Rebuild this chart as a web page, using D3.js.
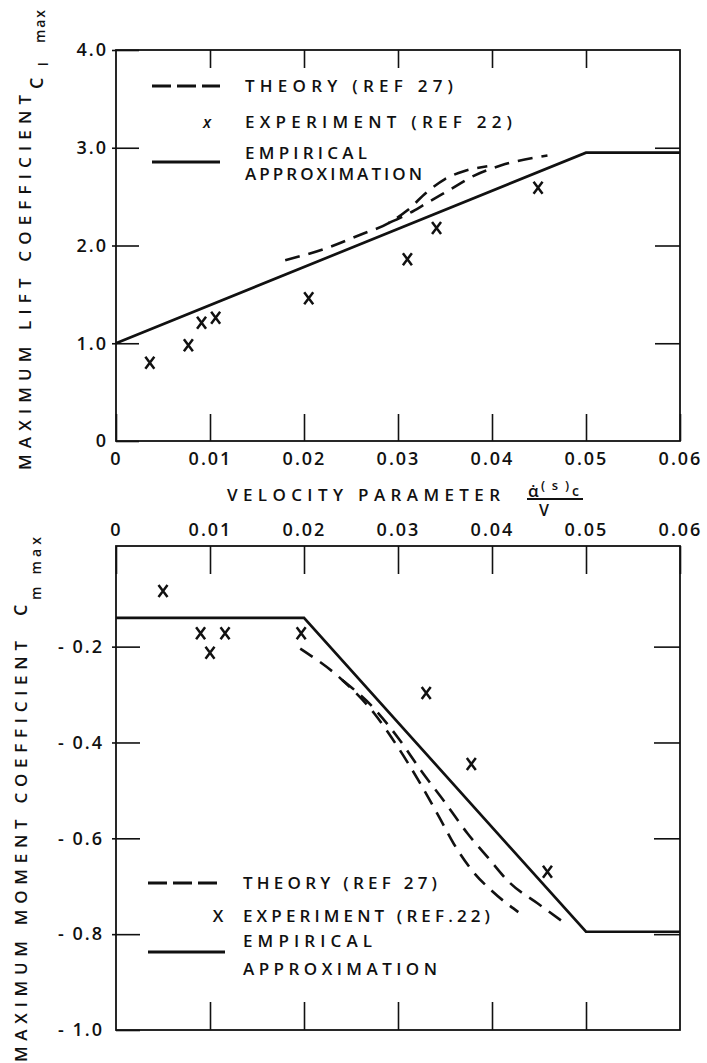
<!DOCTYPE html>
<html>
<head>
<meta charset="utf-8">
<script src="https://cdn.jsdelivr.net/npm/d3@7"></script>
<style>
  body { margin: 0; background: #fff; }
  text { font-family: "Open Sans", sans-serif; font-weight: 600; fill: #111; }
</style>
</head>
<body>
<svg id="chart" width="707" height="1063"></svg>
<script>
// ---- data ----
const xTickValues = [0, 0.01, 0.02, 0.03, 0.04, 0.05, 0.06];
const xInnerTicks = [0.01, 0.02, 0.03, 0.04, 0.05];
const liftTicks = [0, 1, 2, 3, 4];
const momentTicks = [-1.0, -0.8, -0.6, -0.4, -0.2];

// lift coefficient
const liftEmpirical = [[0, 1.0], [0.05, 2.95], [0.06, 2.95]];
const liftTheoryA = [[0.018, 1.85], [0.022, 1.96], [0.026, 2.11], [0.029, 2.23], [0.031, 2.36],
  [0.033, 2.54], [0.035, 2.68], [0.037, 2.76], [0.0395, 2.81]];
const liftTheoryB = [[0.018, 1.85], [0.022, 1.96], [0.026, 2.11], [0.029, 2.23], [0.031, 2.32],
  [0.033, 2.43], [0.0355, 2.57], [0.038, 2.71], [0.041, 2.82], [0.0459, 2.92]];
const liftExperiment = [[0.0036, 0.80], [0.0077, 0.98], [0.0091, 1.21], [0.0106, 1.26],
  [0.0205, 1.46], [0.031, 1.86], [0.0341, 2.18], [0.0449, 2.59]];

// moment coefficient
const momentEmpirical = [[0, -0.14], [0.02, -0.14], [0.05, -0.795], [0.06, -0.795]];
const momentTheoryA = [[0.0196, -0.204], [0.0241, -0.27], [0.0275, -0.34], [0.030, -0.41],
  [0.0325, -0.49], [0.0345, -0.56], [0.0362, -0.62], [0.038, -0.67], [0.040, -0.71], [0.0428, -0.754]];
const momentTheoryB = [[0.0196, -0.204], [0.0241, -0.27], [0.0275, -0.33], [0.030, -0.39],
  [0.0325, -0.46], [0.035, -0.525], [0.0374, -0.59], [0.0396, -0.641], [0.0419, -0.693],
  [0.0448, -0.735], [0.0476, -0.775]];
const momentExperiment = [[0.005, -0.084], [0.009, -0.172], [0.0116, -0.172], [0.010, -0.213],
  [0.0197, -0.172], [0.033, -0.297], [0.0378, -0.445], [0.0459, -0.67]];

// ---- drawing ----
const svg = d3.select("#chart");
const left = 116, right = 680;

const x = d3.scaleLinear().domain([0, 0.06]).range([left, right]);
const yL = d3.scaleLinear().domain([0, 4]).range([441, 50]);
const yM = d3.scaleLinear().domain([-1, 0.01]).range([1030, 546]);

const fmtX = d => d === 0 ? "0" : d.toFixed(2);

function styleAxis(g, labelSize) {
  g.select(".domain").remove();
  g.selectAll(".tick line").attr("stroke", "#111").attr("stroke-width", 1.6);
  g.selectAll(".tick text")
    .attr("fill", "#111")
    .style("font-size", labelSize + "px")
    .style("letter-spacing", "2px")
    .style("font-family", "'Open Sans', sans-serif")
    .style("font-weight", 600);
}

const line = d3.line().x(d => x(d[0]));

// the second theory curve shares its first points with the first one;
// only draw it from the point where it branches off
function branchOf(a, b) {
  let i = 0;
  while (i < a.length && i < b.length && a[i][0] === b[i][0] && a[i][1] === b[i][1]) i++;
  return b.slice(Math.max(0, i - 1));
}

function drawPanel(yScale, data) {
  const g = svg.append("g");
  const y0 = yScale.range()[0], y1 = yScale.range()[1];
  g.append("rect")
    .attr("x", left).attr("y", y1)
    .attr("width", right - left).attr("height", y0 - y1)
    .attr("fill", "none").attr("stroke", "#111").attr("stroke-width", 1.8);

  const lg = line.y(d => yScale(d[1]));
  g.append("path").attr("d", lg.curve(d3.curveLinear)(data.empirical))
    .attr("fill", "none").attr("stroke", "#111").attr("stroke-width", 2.7);
  [data.theoryA, branchOf(data.theoryA, data.theoryB)].forEach(t => {
    g.append("path").attr("d", lg.curve(d3.curveMonotoneX)(t))
      .attr("fill", "none").attr("stroke", "#111").attr("stroke-width", 2.6)
      .attr("stroke-dasharray", "15,9");
  });
  g.selectAll(".xm").data(data.experiment).join("path")
    .attr("transform", d => `translate(${x(d[0])},${yScale(d[1])})`)
    .attr("d", "M-4.5,-6L4.5,6M-4.5,6L4.5,-6")
    .attr("stroke", "#111").attr("stroke-width", 2.5).attr("fill", "none");
  return g;
}

// top panel (lift)
drawPanel(yL, { empirical: liftEmpirical, theoryA: liftTheoryA, theoryB: liftTheoryB, experiment: liftExperiment });

svg.append("g").attr("transform", "translate(0,441)")
  .call(d3.axisBottom(x).tickValues(xTickValues).tickSizeInner(-27).tickSizeOuter(0).tickPadding(11).tickFormat(fmtX))
  .call(g => styleAxis(g, 18));
svg.append("g").attr("transform", "translate(0,50)")
  .call(d3.axisTop(x).tickValues(xInnerTicks).tickSizeInner(-18).tickSizeOuter(0).tickFormat(""))
  .call(g => styleAxis(g, 18));
svg.append("g").attr("transform", `translate(${left},0)`)
  .call(d3.axisLeft(yL).tickValues(liftTicks).tickSizeInner(-23).tickSizeOuter(0).tickPadding(8)
    .tickFormat(d => d === 0 ? "0" : d.toFixed(1)))
  .call(g => styleAxis(g, 18));
svg.append("g").attr("transform", `translate(${left},0)`)
  .call(d3.axisLeft(yL).tickValues([1, 2, 3, 4]).tickSizeInner(4).tickSizeOuter(0).tickFormat(""))
  .call(g => styleAxis(g, 18));
svg.append("g").attr("transform", `translate(${right},0)`)
  .call(d3.axisRight(yL).tickValues([1, 2, 3]).tickSizeInner(-25).tickSizeOuter(0).tickFormat(""))
  .call(g => styleAxis(g, 18));

// bottom panel (moment)
drawPanel(yM, { empirical: momentEmpirical, theoryA: momentTheoryA, theoryB: momentTheoryB, experiment: momentExperiment });

svg.append("g").attr("transform", `translate(0,${yM(0.01)})`)
  .call(d3.axisTop(x).tickValues(xTickValues).tickSizeInner(-28).tickSizeOuter(0).tickPadding(10).tickFormat(fmtX))
  .call(g => styleAxis(g, 18));
svg.append("g").attr("transform", "translate(0,1030)")
  .call(d3.axisBottom(x).tickValues(xInnerTicks).tickSizeInner(-28).tickSizeOuter(0).tickFormat(""))
  .call(g => styleAxis(g, 18));
svg.append("g").attr("transform", `translate(${left},0)`)
  .call(d3.axisLeft(yM).tickValues(momentTicks).tickSizeInner(-24).tickSizeOuter(0).tickPadding(12)
    .tickFormat(d => "- " + Math.abs(d).toFixed(1)))
  .call(g => styleAxis(g, 18));
svg.append("g").attr("transform", `translate(${left},0)`)
  .call(d3.axisLeft(yM).tickValues(momentTicks.slice(1)).tickSizeInner(4).tickSizeOuter(0).tickFormat(""))
  .call(g => styleAxis(g, 18));
svg.append("g").attr("transform", `translate(${right},0)`)
  .call(d3.axisRight(yM).tickValues(momentTicks.slice(1)).tickSizeInner(-26).tickSizeOuter(0).tickFormat(""))
  .call(g => styleAxis(g, 18));

// ---- legends ----
function legend(items) {
  items.forEach(it => {
    if (it.kind === "dash" || it.kind === "solid") {
      svg.append("line").attr("x1", it.x1).attr("x2", it.x2).attr("y1", it.y).attr("y2", it.y)
        .attr("stroke", "#111").attr("stroke-width", 3)
        .attr("stroke-dasharray", it.kind === "dash" ? "19,6" : null);
    } else {
      const t = svg.append("text").attr("x", it.x).attr("y", it.y).text(it.text)
        .style("font-size", (it.size || 17) + "px");
      if (it.len) t.attr("textLength", it.len).attr("lengthAdjust", "spacing");
      if (it.anchor) t.attr("text-anchor", it.anchor);
      if (it.italic) t.style("font-style", "italic");
    }
  });
}

legend([
  { kind: "dash", x1: 152, x2: 220, y: 86 },
  { text: "THEORY (REF 27)", x: 245, y: 92, len: 208 },
  { text: "x", x: 207, y: 128, anchor: "middle", size: 16, italic: true },
  { text: "EXPERIMENT (REF 22)", x: 245, y: 128, len: 267 },
  { kind: "solid", x1: 152, x2: 220, y: 162 },
  { text: "EMPIRICAL", x: 245, y: 159, len: 122 },
  { text: "APPROXIMATION", x: 245, y: 180, len: 177 }
]);

legend([
  { kind: "dash", x1: 148, x2: 222, y: 883 },
  { text: "THEORY (REF 27)", x: 243, y: 889, len: 194 },
  { text: "X", x: 218, y: 922, anchor: "middle", size: 17 },
  { text: "EXPERIMENT (REF.22)", x: 243, y: 922, len: 247 },
  { kind: "solid", x1: 148, x2: 225, y: 952 },
  { text: "EMPIRICAL", x: 243, y: 947, len: 129 },
  { text: "APPROXIMATION", x: 243, y: 975, len: 194 }
]);

// ---- axis titles ----
function vtext(str, bx, by, size, len) {
  const t = svg.append("text")
    .attr("transform", `translate(${bx},${by}) rotate(-90)`)
    .text(str).style("font-size", size + "px");
  if (len) t.attr("textLength", len).attr("lengthAdjust", "spacing");
  return t;
}
// lift
vtext("MAXIMUM LIFT COEFFICIENT", 31, 470, 17, 375);
vtext("C", 43, 89, 18);
vtext("l", 48, 66, 13);
vtext("max", 45, 43, 14, 33);
// moment
vtext("MAXIMUM MOMENT COEFFICIENT", 27, 1062, 17, 421);
vtext("C", 27, 616, 18);
vtext("m max", 41, 600, 14, 63);

// x title
svg.append("text").attr("x", 227).attr("y", 501).text("VELOCITY PARAMETER")
  .attr("textLength", 273).attr("lengthAdjust", "spacing").style("font-size", "17px");
svg.append("text").attr("x", 528).attr("y", 497).text("\u03B1\u0307").style("font-size", "17px");
svg.append("text").attr("x", 541).attr("y", 490).text("(s)").style("font-size", "13px")
  .attr("textLength", 28).attr("lengthAdjust", "spacing");
svg.append("text").attr("x", 572).attr("y", 496).text("c").style("font-size", "14px");
svg.append("line").attr("x1", 527).attr("x2", 583).attr("y1", 499).attr("y2", 499)
  .attr("stroke", "#111").attr("stroke-width", 2);
svg.append("text").attr("x", 544).attr("y", 516).attr("text-anchor", "middle").text("V").style("font-size", "16px");
</script>
</body>
</html>
